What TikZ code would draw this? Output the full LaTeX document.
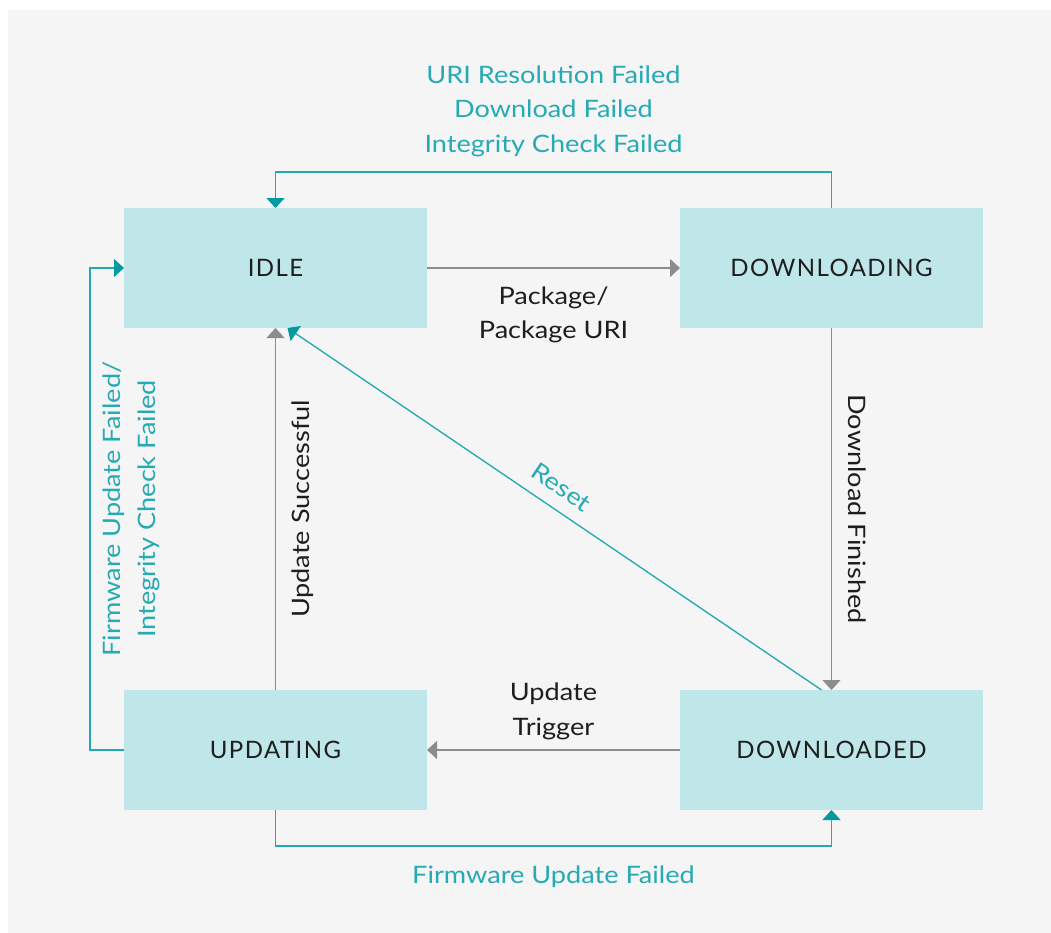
\documentclass[tikz,border=0pt]{standalone}
\usepackage{fontspec}
\setmainfont{Lato}[FakeStretch=1.13]
\newfontfamily\statefont{Lato}[LetterSpace=6]
\usetikzlibrary{arrows.meta,calc}
\definecolor{pagebg}{RGB}{245,245,245}
\definecolor{statebg}{RGB}{191,230,232}
\definecolor{statetext}{RGB}{30,30,30}
\definecolor{okline}{RGB}{140,140,140}
\definecolor{failline}{RGB}{32,170,181}
\definecolor{failtip}{RGB}{0,154,160}
\definecolor{failtext}{RGB}{38,170,180}

\begin{document}
\begin{tikzpicture}[x=0.75pt, y=-0.75pt,
    font=\fontsize{18}{26}\selectfont,
    state/.style={fill=statebg, text=statetext, inner sep=0pt, outer sep=0pt,
      minimum width=227.25pt, minimum height=90pt,
      font=\statefont\fontsize{18}{26}\selectfont},
    okarrow/.style={draw=okline, line width=1pt,
      -{Triangle[width=13.5pt,length=7.5pt]}},
    failarrow/.style={draw=failline, line width=1pt,
      -{Triangle[width=13.5pt,length=7.5pt,color=failtip]}},
    oklabel/.style={text=statetext, align=center},
    faillabel/.style={text=failtext, align=center}]
    \useasboundingbox (0,0) rectangle (1051,933);
    \fill[white] (0,0) rectangle (1051,933);
    \fill[pagebg] (8,10) rectangle (1051,933);

    % the four states
    \node[state] (idle)  at (275.5,268) {IDLE};
    \node[state] (dling) at (831.5,268) {DOWNLOADING};
    \node[state] (upd)   at (275.5,750) {UPDATING};
    \node[state] (dled)  at (831.5,750) {DOWNLOADED};

    % normal flow
    \draw[okarrow] (idle) -- node[oklabel, midway, below=10pt] {Package/\\Package URI} (dling);
    \draw[okarrow] (dling) -- node[oklabel, midway, rotate=-90, anchor=south, inner ysep=12pt] {Download Finished} (dled);
    \draw[okarrow] (dled) -- node[oklabel, midway, above=4pt] {Update\\Trigger} (upd);
    \draw[okarrow] (upd) -- node[oklabel, midway, rotate=90, anchor=north, inner ysep=12pt] {Update Successful} (idle);

    % failure / reset paths
    \draw[failarrow] ($(dled.north)+(-10,0)$) -- node[faillabel, pos=0.51, sloped, above=6pt] {Reset} ($(idle.south)+(12,0)$);
    \draw[failarrow] (dling.north) -- ++(0,-36) -| node[faillabel, pos=0.25, above=7.5pt]
      {URI Resolution Failed\\Download Failed\\Integrity Check Failed} (idle.north);
    \draw[failarrow] (upd.west) -- ++(-34,0) |- node[faillabel, pos=0.25, rotate=90, anchor=north, inner ysep=9pt]
      {Firmware Update Failed/\\Integrity Check Failed} (idle.west);
    \draw[failarrow] (upd.south) -- ++(0,36) -| node[faillabel, pos=0.25, below=11pt]
      {Firmware Update Failed} (dled.south);
\end{tikzpicture}
\end{document}
